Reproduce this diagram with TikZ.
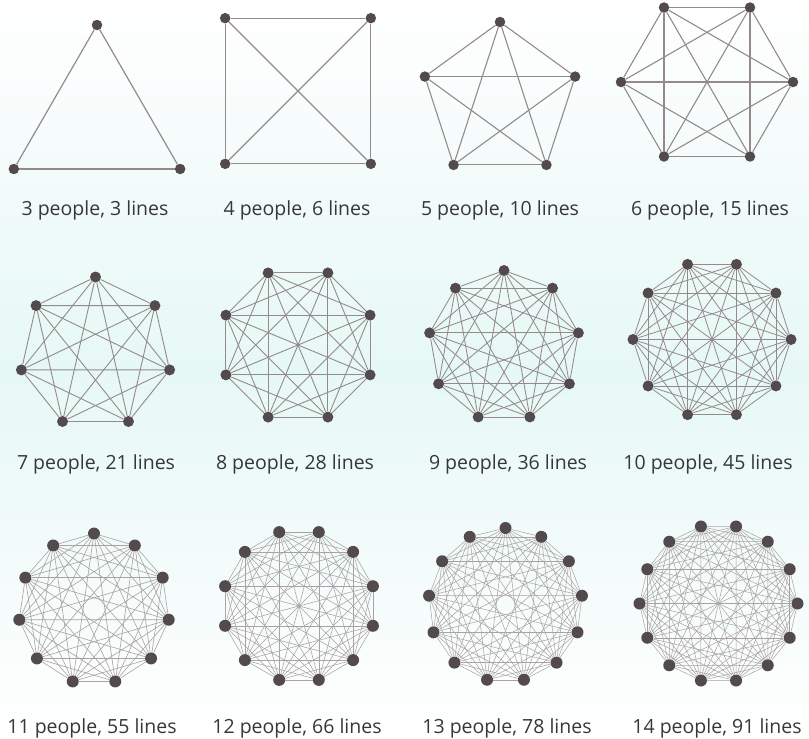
\documentclass[tikz,border=0pt]{standalone}
\usepackage{fontspec}
\setmainfont{Open Sans}
\usepackage{xcolor}
\definecolor{DotGrey}{RGB}{82,74,77}
\definecolor{LinkGrey}{RGB}{148,138,139}
\definecolor{TextGrey}{RGB}{55,55,55}
\definecolor{BgMint}{RGB}{230,248,245}

\begin{document}
\begin{tikzpicture}[x=1pt,y=-1pt,
  person/.style={circle,fill=DotGrey,inner sep=0pt,minimum size=10pt},
  link/.style={draw=LinkGrey,line width=1pt},
  caption/.style={font=\fontsize{19.5}{22}\selectfont,text=TextGrey,anchor=base}
]
  \shade[top color=white,bottom color=white,middle color=BgMint] (0,0) rectangle (809,739);
  \useasboundingbox (0,0) rectangle (809,739);
  % people / centre / radius / first angle / dot / line / tint / caption / lines
  \foreach \n/\cx/\cy/\r/\a/\d/\w/\c/\lx/\ly/\lines in {
      3/97/121/96/270/10.5/1.2/100/95/215/3,
      4/298/91/103/45/10.5/1.2/100/297/215/6,
      5/500/101/79/270/10.5/1.1/100/500/215/10,
      6/707/82/86/0/10.5/1.1/100/710/215/15,
      7/95.5/353/76/270/11/0.9/100/96/469/21,
      8/298/345/78/22.5/11/0.9/100/295/469/28,
      9/504/346/75.5/270/11/0.85/100/508/469/36,
      10/712/339.5/79/0/11/0.8/100/708/469/45,
      11/94/609/75.5/270/12/0.6/80/92/733/55,
      12/299/606/76.5/15/12/0.55/80/297/733/66,
      13/505.5/605/77/270/12/0.5/80/507/733/78,
      14/718.5/603.5/79/0/12/0.5/80/717/733/91}
  {
    \begin{scope}[shift={(\cx,\cy)}]
      \foreach \i in {1,...,\n}
        \node[person,minimum size=\d pt] (v\n-\i) at ({\a+(\i-1)*360/\n}:\r) {};
      \pgfmathtruncatemacro\m{\n-1}
      \foreach \i in {1,...,\m}{
        \pgfmathtruncatemacro\k{\i+1}
        \foreach \j in {\k,...,\n}
          \draw[link,draw=LinkGrey!\c,line width=\w pt] (v\n-\i) -- (v\n-\j);
      }
    \end{scope}
    \node[caption] (cap\n) at (\lx,\ly) {\n\ people, \lines\ lines};
  }
\end{tikzpicture}
\end{document}
